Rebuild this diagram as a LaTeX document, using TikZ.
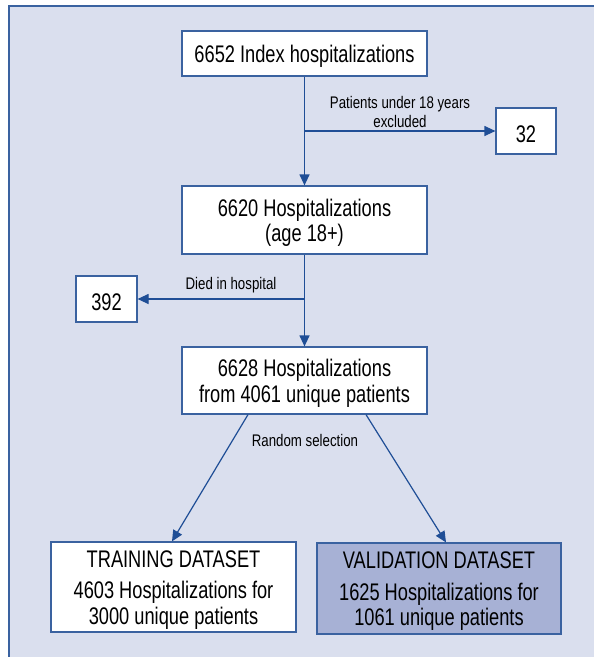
\documentclass[tikz,border=0pt]{standalone}
\usepackage{fontspec}
\setmainfont[FakeStretch=0.76]{Liberation Sans}
\newfontfamily\lblfont[FakeStretch=0.79]{Liberation Sans}
\usetikzlibrary{arrows.meta}
\definecolor{bgc}{HTML}{DADFEE}
\definecolor{framec}{HTML}{3A62A0}
\definecolor{arrc}{HTML}{1F4E96}
\definecolor{valc}{HTML}{A7B1D5}
\newcommand\toppad{\rule{0pt}{\dimexpr 0.73em+5pt\relax}}
\tikzset{
  box/.style={draw=framec, line width=1.2pt, fill=white, inner sep=0pt, align=center,
    font=\fontsize{24}{25.5}\selectfont},
  lbl/.style={inner sep=0pt, align=center, font=\lblfont\fontsize{16.8}{19}\selectfont},
  conn/.style={draw=arrc, line width=1.2pt, -{Triangle[length=11pt,width=10pt]}}
}
\begin{document}
\begin{tikzpicture}[x=1pt,y=-1pt]
\useasboundingbox (0,0) rectangle (594,657);
\fill[white] (0,0) rectangle (594,657);
\fill[bgc] (9,6) rectangle (600,665);
\draw[framec, line width=1.2pt] (9,665) -- (9,6) -- (600,6);
\node[box, minimum width=245pt, minimum height=45pt] (b1) at (304.5,53.5) {\toppad 6652 Index hospitalizations};
\node[box, minimum width=60pt, minimum height=46pt] (b32) at (526,131) {\toppad 32};
\node[box, minimum width=245pt, minimum height=68pt] (b2) at (304.5,220) {\toppad 6620 Hospitalizations\\(age 18+)};
\node[box, minimum width=61pt, minimum height=46pt] (b392) at (106.5,299) {\toppad 392};
\node[box, minimum width=245pt, minimum height=67pt] (b3) at (304.5,380.5) {\toppad 6628 Hospitalizations\\from 4061 unique patients};
\node[box, minimum width=245pt, minimum height=90pt] (tr) at (173.5,587) {\toppad TRAINING DATASET\\[6pt]4603 Hospitalizations for\\3000 unique patients};
\node[box, fill=valc, minimum width=244pt, minimum height=91pt] (va) at (439,588.5) {\toppad VALIDATION DATASET\\[6pt]1625 Hospitalizations for\\1061 unique patients};
\node[lbl] (l1) at (400,112) {Patients under 18 years\\excluded};
\node[lbl] (l2) at (231,285) {Died in hospital};
\node[lbl] (l3) at (305,440) {Random selection};
\coordinate (j1) at (b1.south |- b32.west);
\coordinate (j2) at (b2.south |- b392.east);
\draw[conn] (b1.south) -- (b2.north);
\draw[conn] (j1) -- (b32.west);
\draw[conn] (b2.south) -- (b3.north);
\draw[conn] (j2) -- (b392.east);
\draw[conn] ([xshift=-56.5pt]b3.south) -- ([xshift=-1.5pt]tr.north);
\draw[conn] ([xshift=61.5pt]b3.south) -- ([xshift=7pt]va.north);
\end{tikzpicture}
\end{document}
